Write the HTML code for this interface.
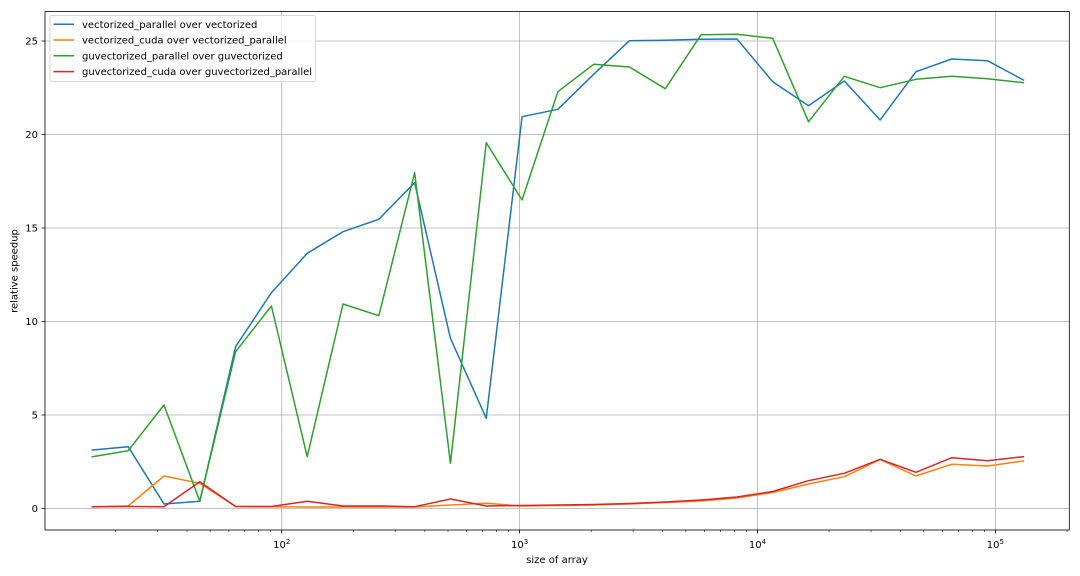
<!DOCTYPE html>
<html>
<head>
<meta charset="utf-8">
<style>
html,body{margin:0;padding:0;background:#fff;}
svg{display:block;}
text{font-family:"DejaVu Sans","Liberation Sans",sans-serif;font-size:10px;fill:#000;}
</style>
</head>
<body>
<svg width="1080" height="576" viewBox="0 0 1080 576" xmlns="http://www.w3.org/2000/svg">
<rect x="0" y="0" width="1080" height="576" fill="#fff"/>
<!-- grid -->
<g stroke="#b0b0b0" stroke-width="0.8" fill="none">
<path d="M45 508.5H1069.3M45 415H1069.3M45 321.5H1069.3M45 228H1069.3M45 134.5H1069.3M45 41H1069.3"/>
<path d="M281.7 11.5V530M519.6 11.5V530M757.5 11.5V530M995.4 11.5V530"/>
</g>
<!-- series -->
<g fill="none" stroke-width="1.5" stroke-linejoin="round" stroke-linecap="square">
<polyline stroke="#1f77b4" points="92.36,450 128.17,446.7 163.98,504 199.79,501.3 235.6,346.7 271.4,292.7 307.21,253.3 343.02,231.7 378.83,219.3 414.64,182.7 450.44,338.3 486.25,418.3 522.06,116.7 557.87,109.3 593.68,74.3 629.48,40.7 665.29,40.3 701.1,39.3 736.91,39 772.72,81.7 808.52,105.7 844.33,81 880.14,120 915.95,71.7 951.76,59 987.56,60.7 1023.37,80"/>
<polyline stroke="#ff7f0e" points="92.36,506.7 128.17,506 163.98,476 199.79,483.3 235.6,506.5 271.4,506.7 307.21,507 343.02,507 378.83,507 414.64,507 450.44,505 486.25,503.3 522.06,506 557.87,505.5 593.68,505 629.48,504 665.29,502.5 701.1,501 736.91,498 772.72,492.5 808.52,484 844.33,476.7 880.14,459.5 915.95,476 951.76,464.3 987.56,466 1023.37,461"/>
<polyline stroke="#2ca02c" points="92.36,456.7 128.17,450.7 163.98,405 199.79,501.3 235.6,351.7 271.4,306 307.21,456.7 343.02,304 378.83,315.7 414.64,172.7 450.44,463.3 486.25,142.7 522.06,200 557.87,91.7 593.68,64.3 629.48,67 665.29,88.7 701.1,34.7 736.91,34.3 772.72,38.3 808.52,121.7 844.33,76.3 880.14,87.7 915.95,79.3 951.76,76.3 987.56,78.7 1023.37,82.7"/>
<polyline stroke="#d62728" points="92.36,506.7 128.17,506.5 163.98,506.7 199.79,481.7 235.6,506.5 271.4,506.5 307.21,501.3 343.02,506 378.83,506 414.64,506.7 450.44,499 486.25,506 522.06,505.5 557.87,505 593.68,504.5 629.48,503.5 665.29,502 701.1,500 736.91,497 772.72,491.5 808.52,480.7 844.33,473.3 880.14,459.3 915.95,472.3 951.76,457.7 987.56,460.7 1023.37,456.7"/>
</g>
<!-- spines -->
<rect x="45" y="11.5" width="1024.3" height="518.5" fill="none" stroke="#000" stroke-width="0.8"/>
<!-- ticks -->
<g stroke="#000" stroke-width="0.8" fill="none">
<path d="M41.5 508.5H45M41.5 415H45M41.5 321.5H45M41.5 228H45M41.5 134.5H45M41.5 41H45"/>
<path d="M281.7 530v3.5M519.6 530v3.5M757.5 530v3.5M995.4 530v3.5"/>
<path stroke-width="0.6" d="M115.4 530v2M157.3 530v2M187 530v2M210.1 530v2M228.9 530v2M244.8 530v2M258.6 530v2M270.8 530v2
M353.3 530v2M395.2 530v2M424.9 530v2M448 530v2M466.8 530v2M482.7 530v2M496.5 530v2M508.7 530v2
M591.2 530v2M633.1 530v2M662.8 530v2M685.9 530v2M704.7 530v2M720.6 530v2M734.4 530v2M746.6 530v2
M829.1 530v2M871 530v2M900.7 530v2M923.8 530v2M942.6 530v2M958.5 530v2M972.3 530v2M984.5 530v2
M1067 530v2"/>
</g>
<!-- y tick labels -->
<g text-anchor="end">
<text x="38" y="512">0</text>
<text x="38" y="418.5">5</text>
<text x="38" y="325">10</text>
<text x="38" y="231.5">15</text>
<text x="38" y="138">20</text>
<text x="38" y="44.5">25</text>
</g>
<!-- x tick labels -->
<g text-anchor="middle">
<text x="281.7" y="548">10<tspan font-size="7" dy="-4">2</tspan></text>
<text x="519.6" y="548">10<tspan font-size="7" dy="-4">3</tspan></text>
<text x="757.5" y="548">10<tspan font-size="7" dy="-4">4</tspan></text>
<text x="995.4" y="548">10<tspan font-size="7" dy="-4">5</tspan></text>
</g>
<!-- axis labels -->
<text x="557" y="563" text-anchor="middle">size of array</text>
<text transform="translate(17.5,271) rotate(-90)" text-anchor="middle">relative speedup</text>
<!-- legend -->
<rect x="50" y="15.5" width="265.5" height="66" rx="2" ry="2" fill="#fff" fill-opacity="0.8" stroke="#cccccc" stroke-width="0.8"/>
<g stroke-width="1.5" fill="none">
<path stroke="#1f77b4" d="M53.5 24.2H74"/>
<path stroke="#ff7f0e" d="M53.5 40H74"/>
<path stroke="#2ca02c" d="M53.5 55.8H74"/>
<path stroke="#d62728" d="M53.5 71.6H74"/>
</g>
<text x="82" y="27.8">vectorized_parallel over vectorized</text>
<text x="82" y="43.6">vectorized_cuda over vectorized_parallel</text>
<text x="82" y="59.4">guvectorized_parallel over guvectorized</text>
<text x="82" y="75.2">guvectorized_cuda over guvectorized_parallel</text>
</svg>
</body>
</html>
